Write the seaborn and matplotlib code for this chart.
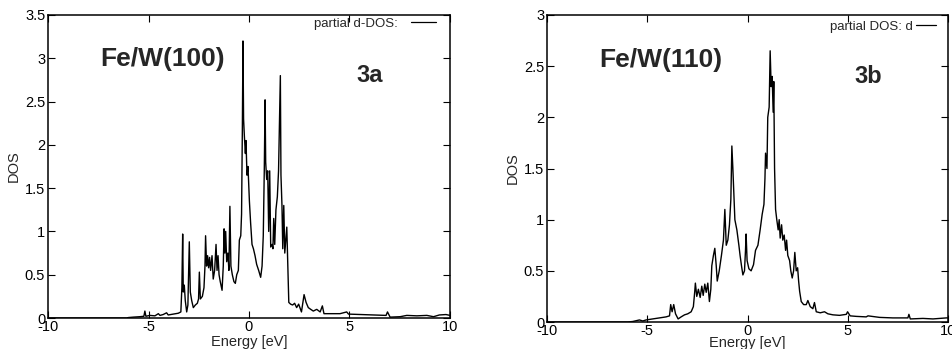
import matplotlib
matplotlib.use("Agg")
import matplotlib.pyplot as plt
import seaborn as sns
import pandas as pd

# ---------------- data ----------------
E_100 = [-10.0, -6.0, -6.01, -5.76, -5.43, -5.23, -5.18, -5.13, -4.93, -4.68, -4.51, -4.43,
         -4.27, -4.10, -4.02, -3.77, -3.52, -3.39, -3.34, -3.30, -3.27, -3.22, -3.17, -3.10,
         -3.04, -2.97, -2.92, -2.85, -2.77, -2.67, -2.57, -2.51, -2.47, -2.42, -2.32, -2.24,
         -2.19, -2.16, -2.11, -2.06, -2.01, -1.96, -1.91, -1.84, -1.78, -1.71, -1.64, -1.59,
         -1.54, -1.49, -1.43, -1.34, -1.28, -1.24, -1.20, -1.16, -1.11, -1.05, -1.00, -0.95,
         -0.90, -0.83, -0.75, -0.68, -0.61, -0.53, -0.48, -0.41, -0.37, -0.33, -0.30, -0.27,
         -0.23, -0.18, -0.15, -0.10, -0.05, 0.02, 0.08, 0.15, 0.22, 0.30, 0.38, 0.48, 0.58,
         0.65, 0.71, 0.76, 0.80, 0.83, 0.88, 0.93, 0.98, 1.03, 1.08, 1.15, 1.19, 1.23, 1.28,
         1.34, 1.41, 1.47, 1.51, 1.56, 1.59, 1.64, 1.68, 1.73, 1.78, 1.83, 1.88, 1.93, 1.98,
         2.07, 2.17, 2.27, 2.37, 2.47, 2.61, 2.74, 2.84, 2.95, 3.07, 3.20, 3.37, 3.54, 3.65,
         3.73, 4.03, 4.53, 4.86, 4.95, 5.53, 6.19, 6.82, 6.89, 7.02, 7.52, 7.85, 8.35, 8.85,
         9.18, 9.47, 9.80, 10.0]
DOS_100 = [0.0, 0.0, 0.005, 0.01, 0.015, 0.02, 0.08, 0.02, 0.03, 0.025, 0.05, 0.03,
           0.04, 0.06, 0.035, 0.045, 0.055, 0.07, 0.35, 0.97, 0.3, 0.38, 0.2, 0.07,
           0.15, 0.88, 0.3, 0.2, 0.12, 0.15, 0.17, 0.22, 0.53, 0.22, 0.25, 0.35,
           0.6, 0.95, 0.6, 0.72, 0.58, 0.7, 0.55, 0.72, 0.45, 0.55, 0.85, 0.55,
           0.72, 0.5, 0.42, 0.32, 0.6, 1.03, 0.75, 1.0, 0.65, 0.75, 0.55, 1.29,
           0.6, 0.5, 0.42, 0.4, 0.5, 0.55, 0.9, 0.95, 1.2, 2.2, 3.2, 2.3,
           2.1, 1.9, 2.05, 1.65, 1.75, 1.35, 1.1, 0.85, 0.8, 0.72, 0.62, 0.55, 0.47,
           0.6, 0.95, 1.7, 2.52, 1.8, 1.6, 1.7, 1.0, 1.7, 0.82, 0.85, 0.8, 1.15, 0.85,
           1.25, 1.4, 1.7, 2.2, 2.8, 1.65, 1.3, 0.8, 1.3, 0.75, 0.9, 1.05, 0.6, 0.18,
           0.16, 0.15, 0.17, 0.12, 0.16, 0.07, 0.27, 0.18, 0.12, 0.1, 0.08, 0.1, 0.07, 0.14,
           0.05, 0.05, 0.05, 0.07, 0.045, 0.04, 0.035, 0.03, 0.07, 0.01, 0.015, 0.03, 0.025, 0.03,
           0.015, 0.035, 0.04, 0.03]

E_110 = [-10.0, -5.97, -5.72, -5.39, -5.22, -5.06, -4.73, -4.39, -4.06, -3.89, -3.83, -3.76,
         -3.68, -3.59, -3.46, -3.31, -3.14, -2.98, -2.81, -2.70, -2.63, -2.60, -2.53, -2.45,
         -2.36, -2.28, -2.21, -2.13, -2.06, -1.98, -1.90, -1.83, -1.78, -1.70, -1.63, -1.56,
         -1.51, -1.41, -1.30, -1.20, -1.13, -1.06, -0.98, -0.90, -0.83, -0.78, -0.73, -0.68,
         -0.63, -0.53, -0.43, -0.37, -0.30, -0.23, -0.15, -0.10, -0.07, -0.02, 0.07, 0.18,
         0.30, 0.40, 0.52, 0.63, 0.73, 0.82, 0.87, 0.90, 0.97, 1.01, 1.08, 1.13, 1.18,
         1.23, 1.28, 1.31, 1.35, 1.40, 1.46, 1.53, 1.58, 1.63, 1.70, 1.76, 1.83, 1.90,
         1.95, 2.01, 2.10, 2.16, 2.23, 2.30, 2.36, 2.43, 2.50, 2.55, 2.60, 2.68, 2.80,
         2.93, 3.01, 3.13, 3.26, 3.34, 3.43, 3.63, 3.84, 4.01, 4.26, 4.59, 4.93, 4.99,
         5.12, 5.42, 5.92, 6.01, 6.59, 7.25, 8.00, 8.05, 8.12, 8.75, 9.25, 9.92, 10.0]
DOS_110 = [0.0, 0.0, 0.005, 0.02, 0.01, 0.02, 0.03, 0.04, 0.05, 0.06, 0.17, 0.1,
           0.17, 0.08, 0.03, 0.05, 0.07, 0.08, 0.1, 0.15, 0.3, 0.38, 0.25, 0.32,
           0.24, 0.35, 0.26, 0.37, 0.29, 0.38, 0.2, 0.32, 0.55, 0.65, 0.72, 0.55,
           0.4, 0.5, 0.65, 0.8, 1.1, 0.75, 0.8, 0.95, 1.2, 1.72, 1.5, 1.25,
           1.0, 0.9, 0.75, 0.65, 0.55, 0.46, 0.5, 0.7, 0.86, 0.6, 0.52, 0.5,
           0.56, 0.7, 0.75, 0.9, 1.05, 1.15, 1.4, 1.65, 1.5, 2.0, 2.1, 2.65, 2.3,
           2.4, 2.05, 2.35, 1.5, 1.1, 1.0, 0.9, 1.0, 0.82, 0.95, 0.8, 0.85, 0.7,
           0.8, 0.65, 0.6, 0.5, 0.43, 0.5, 0.68, 0.5, 0.53, 0.4, 0.3, 0.2, 0.17,
           0.17, 0.21, 0.15, 0.13, 0.19, 0.1, 0.09, 0.1, 0.08, 0.07, 0.065, 0.075, 0.1,
           0.06, 0.055, 0.05, 0.06, 0.045, 0.04, 0.04, 0.075, 0.03, 0.035, 0.03, 0.04, 0.04]

X_TICKS = [-10, -5, 0, 5, 10]
X_TICK_LABELS = ["-10", "-5", "0", "5", "10"]
Y_TICKS_100 = [0, 0.5, 1, 1.5, 2, 2.5, 3, 3.5]
Y_TICK_LABELS_100 = ["0", "0.5", "1", "1.5", "2", "2.5", "3", "3.5"]
Y_TICKS_110 = [0, 0.5, 1, 1.5, 2, 2.5, 3]
Y_TICK_LABELS_110 = ["0", "0.5", "1", "1.5", "2", "2.5", "3"]

# ---------------- style ----------------
sns.set_theme(style="ticks")
plt.rcParams["font.family"] = ["Liberation Sans", "DejaVu Sans"]
plt.rcParams["axes.unicode_minus"] = False

fig = plt.figure(figsize=(9.53, 3.49), dpi=100)
ax1 = fig.add_axes([48 / 953, 31 / 349, 402 / 953, 303 / 349])
ax2 = fig.add_axes([547 / 953, 27 / 349, 401 / 953, 307 / 349])

df1 = pd.DataFrame({"E": E_100, "DOS": DOS_100})
df2 = pd.DataFrame({"E": E_110, "DOS": DOS_110})

sns.lineplot(data=df1, x="E", y="DOS", ax=ax1, color="black", linewidth=1.0,
             label="partial d-DOS:", sort=False, estimator=None)
sns.lineplot(data=df2, x="E", y="DOS", ax=ax2, color="black", linewidth=1.0,
             label="partial DOS: d", sort=False, estimator=None)

panels = [
    (ax1, Y_TICKS_100, Y_TICK_LABELS_100, 3.5, "Fe/W(100)", "3a", 0.5,
     dict(handlelength=1.9, handletextpad=1.0, bbox_to_anchor=(0.972, 1.0))),
    (ax2, Y_TICKS_110, Y_TICK_LABELS_110, 3.0, "Fe/W(110)", "3b", -1.5,
     dict(handlelength=1.5, handletextpad=0.25, bbox_to_anchor=(0.977, 0.99))),
]
for ax, yt, ytl, ymax, title, tag, xlpad, legkw in panels:
    ax.set_xlim(-10, 10)
    ax.set_ylim(0, ymax)
    ax.set_xticks(X_TICKS)
    ax.set_xticklabels(X_TICK_LABELS)
    ax.set_yticks(yt)
    ax.set_yticklabels(ytl)
    ax.tick_params(axis="both", direction="in", length=5, width=0.8,
                   top=True, right=True, labelsize=10.5, colors="black")
    ax.tick_params(axis="x", pad=1.5)
    ax.tick_params(axis="y", pad=2)
    for s in ax.spines.values():
        s.set_linewidth(1.1)
        s.set_color("black")
    ax.set_xlabel("Energy [eV]", fontsize=10.5, labelpad=xlpad)
    ax.set_ylabel("DOS", fontsize=10.5, labelpad=3)
    ax.text(0.13, 0.855, title, transform=ax.transAxes, fontsize=19,
            fontweight="bold", ha="left", va="center")
    ax.text(0.80, 0.80, tag, transform=ax.transAxes, fontsize=17,
            fontweight="bold", ha="center", va="center")
    leg = ax.legend(loc="upper right", frameon=False, markerfirst=False,
                    fontsize=9.5, borderpad=0.2, borderaxespad=0.0, **legkw)
    for line in leg.get_lines():
        line.set_linewidth(0.9)

fig.savefig("out.png", dpi=100)
